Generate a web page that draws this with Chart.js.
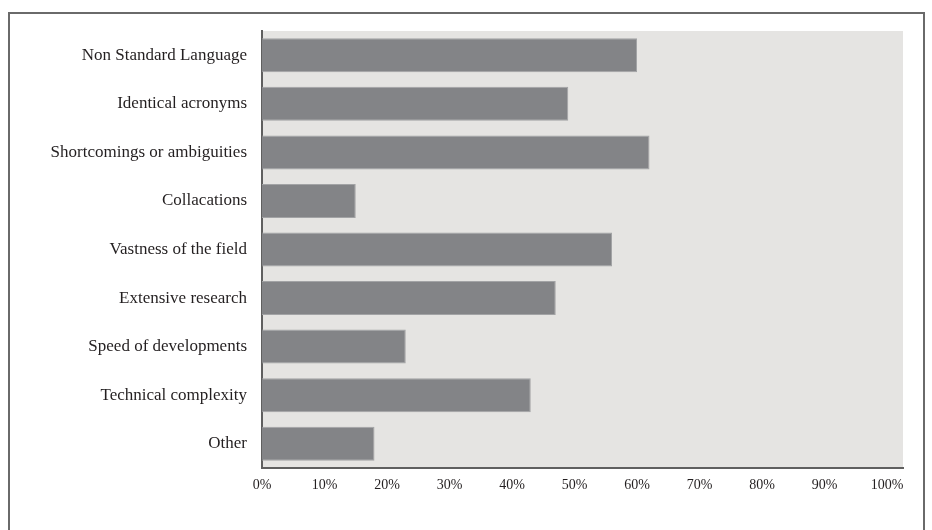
<!DOCTYPE html>
<html>
<head>
<meta charset="utf-8">
<script src="https://cdn.jsdelivr.net/npm/chart.js@4.4.0/dist/chart.umd.min.js"></script>
<style>
  html, body { margin: 0; padding: 0; background: #fff; overflow: hidden; }
  #frame { position: absolute; left: 8px; top: 12px; width: 917px; height: 560px;
           border: 2px solid #6a6a6a; border-bottom: none; box-sizing: border-box; }
  #wrap { position: absolute; left: 0; top: 0; width: 932px; height: 530px; }
</style>
</head>
<body>
<div id="frame"></div>
<div id="wrap"><canvas id="graph1" width="932" height="530"></canvas></div>
<script>
var categories = ['Non Standard Language', 'Identical acronyms', 'Shortcomings or ambiguities', 'Collacations',
  'Vastness of the field', 'Extensive research', 'Speed of developments', 'Technical complexity', 'Other'];
var percentages = [60, 49, 62, 15, 56, 47, 23, 43, 18];
var xTicks = [0, 10, 20, 30, 40, 50, 60, 70, 80, 90, 100];

// grey plot background
var plotBg = {
  id: 'plotBg',
  beforeDraw: function (chart) {
    var a = chart.chartArea, c = chart.ctx;
    c.save();
    c.fillStyle = '#e5e4e2';
    c.fillRect(a.left, a.top, a.right - a.left, a.bottom - a.top);
    c.restore();
  }
};

var ctx = document.getElementById('graph1').getContext('2d');
var graph1 = new Chart(ctx, {
  type: 'bar',
  data: {
    labels: categories,
    datasets: [{
      data: percentages,
      backgroundColor: '#838487',
      borderColor: '#a2a3a5',
      borderWidth: 1,
      borderSkipped: 'left',
      barPercentage: 1,
      categoryPercentage: 0.7
    }]
  },
  options: {
    indexAxis: 'y',
    responsive: false,
    animation: false,
    layout: { padding: { top: 31, right: 29, left: 0, bottom: 0 } },
    plugins: { legend: { display: false }, tooltip: { enabled: false } },
    scales: {
      x: {
        min: 0,
        max: 102.56,
        z: 1,
        afterBuildTicks: function (scale) {
          scale.ticks = xTicks.map(function (v) { return { value: v }; });
        },
        afterFit: function (scale) { scale.height = 62; },
        grid: { display: false, drawTicks: false },
        border: { display: true, color: '#5f5f5f', width: 2 },
        ticks: {
          padding: 9,
          color: '#231f20',
          font: { family: 'Liberation Serif', size: 14 },
          maxRotation: 0,
          callback: function (v) { return v + '%'; }
        }
      },
      y: {
        z: 1,
        afterFit: function (scale) { scale.width = 262; },
        grid: { display: false, drawTicks: false },
        border: { display: true, color: '#5f5f5f', width: 2 },
        ticks: {
          padding: 15,
          color: '#231f20',
          font: { family: 'Liberation Serif', size: 17 }
        }
      }
    }
  },
  plugins: [plotBg]
});
</script>
</body>
</html>
